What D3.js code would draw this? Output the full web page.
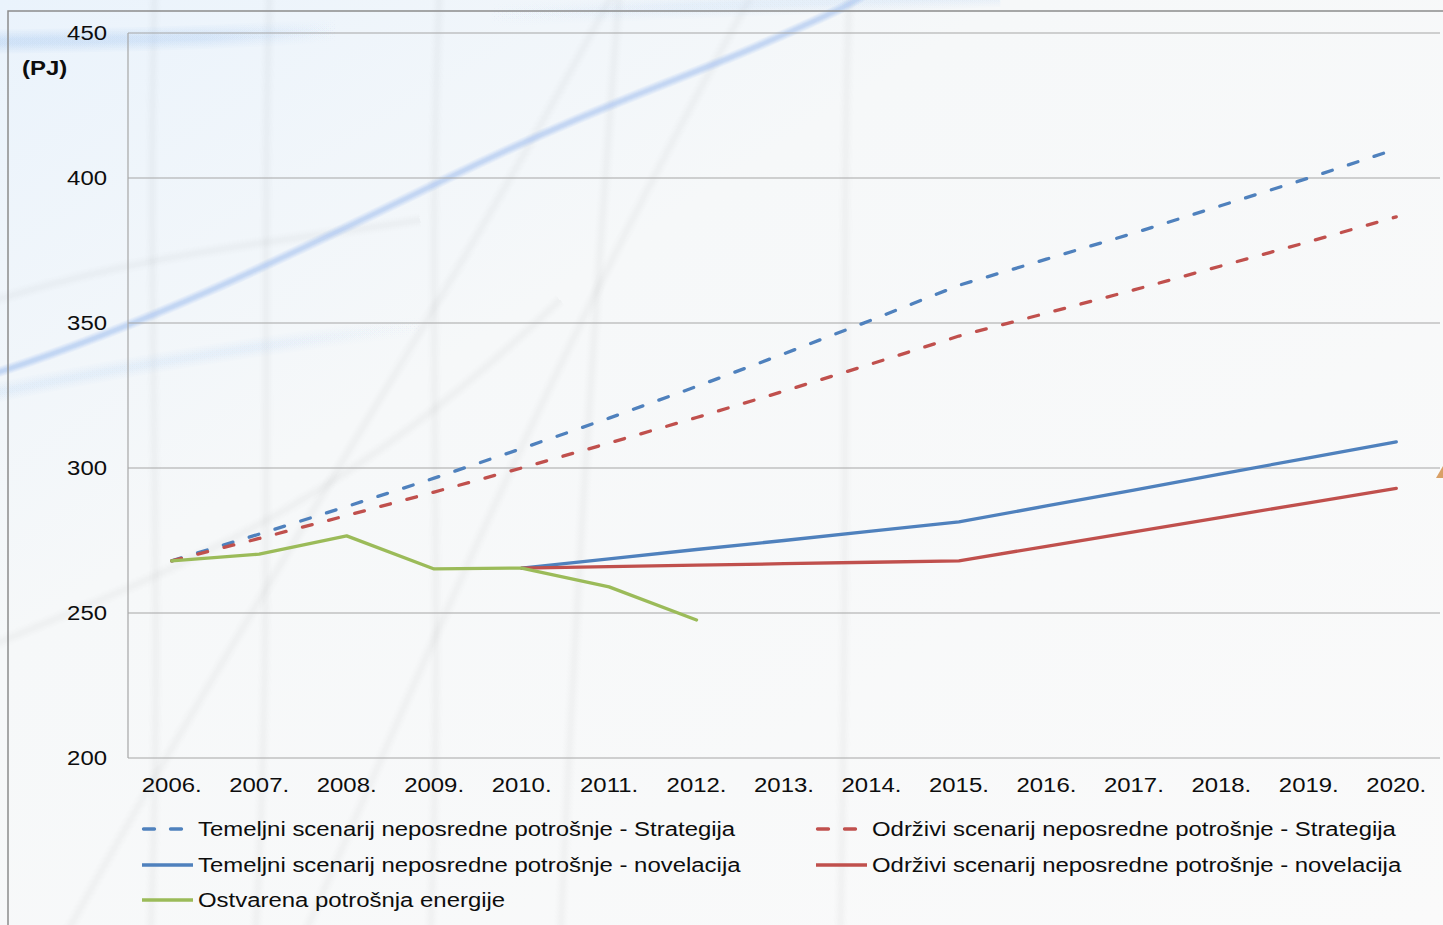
<!DOCTYPE html>
<html>
<head>
<meta charset="utf-8">
<script src="https://cdn.jsdelivr.net/npm/d3@7"></script>
<style>
  body { margin: 0; background: #fff; }
  svg { display: block; font-family: "Liberation Sans", Arial, sans-serif; }
</style>
</head>
<body>
<div id="chart"></div>
<script>
// data
const years = ['2006.', '2007.', '2008.', '2009.', '2010.', '2011.', '2012.', '2013.', '2014.', '2015.', '2016.', '2017.', '2018.', '2019.', '2020.'];
const temeljniStrategija = [268, 277.2, 286.7, 296.5, 306.7, 317.2, 328.1, 339.4, 351.0, 363, 372, 381, 390.5, 400, 410];
const odrziviStrategija = [268, 275.7, 283.6, 291.7, 300.0, 308.6, 317.4, 326.5, 335.9, 345.5, 353.4, 361.4, 369.7, 378.0, 386.6];
const temeljniNovelacija = [null, null, null, null, 265.5, 268.7, 271.9, 275.0, 278.2, 281.4, 286.9, 292.4, 298, 303.5, 309];
const odrziviNovelacija = [null, null, null, null, 265.5, 266, 266.5, 267, 267.5, 268, 273, 278, 283, 288, 293];
const ostvarena = [268, 270.3, 276.6, 265.2, 265.5, 259, 247.6, null, null, null, null, null, null, null, null];
const yTicks = [200, 250, 300, 350, 400, 450];

const series = [
  {name: 'Temeljni scenarij neposredne potrošnje - Strategija', values: temeljniStrategija, color: '#4f81bd', dash: true},
  {name: 'Održivi scenarij neposredne potrošnje - Strategija', values: odrziviStrategija, color: '#c0504d', dash: true},
  {name: 'Temeljni scenarij neposredne potrošnje - novelacija', values: temeljniNovelacija, color: '#4f81bd', dash: false},
  {name: 'Održivi scenarij neposredne potrošnje - novelacija', values: odrziviNovelacija, color: '#c0504d', dash: false},
  {name: 'Ostvarena potrošnja energije', values: ostvarena, color: '#9bbb59', dash: false}
];

const w = 1443;
const h = 925;
const plotLeft = 128, plotRight = 1440, plotTop = 33, plotBottom = 758;
const fontSize = 21;
const sx = 1.14; // text in the original is a bit wider than Arial

const svg = d3.select('#chart')
  .append('svg')
  .attr('width', w)
  .attr('height', h);

//Background
const defs = svg.append('defs');
const grad = defs.append('linearGradient')
  .attr('id', 'bg')
  .attr('x1', 0).attr('y1', 0).attr('x2', 1).attr('y2', 1);
grad.append('stop').attr('offset', '0%').attr('stop-color', '#eaf3fc');
grad.append('stop').attr('offset', '35%').attr('stop-color', '#f6f8f9');
grad.append('stop').attr('offset', '100%').attr('stop-color', '#fafafa');

function fade(id, x1, x2, color) {
  const g = defs.append('linearGradient')
    .attr('id', id)
    .attr('gradientUnits', 'userSpaceOnUse')
    .attr('x1', x1).attr('y1', 0).attr('x2', x2).attr('y2', 0);
  g.append('stop').attr('offset', '0%').attr('stop-color', color).attr('stop-opacity', 1);
  g.append('stop').attr('offset', '60%').attr('stop-color', color).attr('stop-opacity', 0.8);
  g.append('stop').attr('offset', '100%').attr('stop-color', color).attr('stop-opacity', 0);
}
fade('fadeTopLeft', 0, 340, '#a6c7ef');
fade('fadeTop', 1000, 480, '#bcd5f2');
fade('fadeMid', 0, 430, '#bcd5f2');

svg.append('rect')
  .attr('width', w).attr('height', h)
  .attr('fill', 'url(#bg)');

// soft streak: many wide, faint strokes stacked on top of each other
function streak(g, d, color, width, alpha) {
  [4, 3.4, 2.8, 2.3, 1.8, 1.4, 1.0].forEach(k => {
    g.append('path')
      .attr('d', d)
      .attr('fill', 'none')
      .attr('stroke', color)
      .attr('stroke-width', width * k)
      .attr('stroke-linecap', 'butt')
      .attr('opacity', alpha);
  });
}

const deco = svg.append('g');
const greyPaths = [
  'M155,-20 C145,300 165,600 150,945',
  'M270,-20 C260,250 275,600 255,945',
  'M440,-20 C425,300 445,600 430,945',
  'M-20,650 C200,560 350,500 560,300',
  'M60,945 C250,600 450,300 620,-20',
  'M300,945 C450,600 580,300 760,-20',
  'M-20,305 C150,250 300,240 420,220',
  'M560,945 C580,500 600,250 620,-20',
  'M850,-20 C840,200 850,500 840,945'
];
greyPaths.forEach(d => streak(deco, d, '#b4b4b4', 3.5, 0.018));
streak(deco, 'M-20,378 C150,325 300,250 448,178 S680,80 760,45 S850,5 880,-15', '#8fb6ec', 2.6, 0.08);
streak(deco, 'M-30,42 C120,40 220,38 340,30', 'url(#fadeTopLeft)', 6, 0.07);
streak(deco, 'M480,15 C650,8 800,3 1000,-5', 'url(#fadeTop)', 6, 0.05);
streak(deco, 'M-30,398 C150,360 300,340 430,325', 'url(#fadeMid)', 5, 0.045);

// outer frame
svg.append('path')
  .attr('d', `M8,${h} L8,11 L${w},11`)
  .attr('fill', 'none')
  .attr('stroke', '#8c8c8c')
  .attr('stroke-width', 1.5);

// small orange corner shape on the right edge
svg.append('path')
  .attr('d', 'M1436,478 L1443,466 L1443,478 Z')
  .attr('fill', '#d9a066');

//Scales
const xScale = d3.scaleBand()
  .domain(years)
  .range([plotLeft, plotRight]);

const yScale = d3.scaleLinear()
  .domain([200, 450])
  .range([plotBottom, plotTop]);

//Grid
svg.append('g')
  .selectAll('line')
  .data(yTicks)
  .enter()
  .append('line')
  .attr('x1', plotLeft)
  .attr('x2', plotRight)
  .attr('y1', d => yScale(d))
  .attr('y2', d => yScale(d))
  .attr('stroke', '#a6a6a6')
  .attr('stroke-width', 1.2);

svg.append('line')
  .attr('x1', plotLeft).attr('x2', plotLeft)
  .attr('y1', plotTop).attr('y2', plotBottom)
  .attr('stroke', '#a6a6a6')
  .attr('stroke-width', 1.2);

//Axes
const yAxis = d3.axisLeft(yScale).tickValues(yTicks).tickSize(0).tickPadding(21);
const gy = svg.append('g')
  .attr('transform', `translate(${plotLeft}, 0)`)
  .call(yAxis);
gy.select('.domain').remove();
gy.selectAll('text')
  .attr('font-size', fontSize)
  .attr('font-family', '"Liberation Sans", Arial, sans-serif')
  .attr('fill', '#0d0d0d')
  .attr('x', -21 / sx)
  .attr('transform', `scale(${sx},1)`);

const xAxis = d3.axisBottom(xScale).tickSize(0).tickPadding(19);
const gx = svg.append('g')
  .attr('transform', `translate(0, ${plotBottom})`)
  .call(xAxis);
gx.select('.domain').remove();
gx.selectAll('text')
  .attr('font-size', fontSize)
  .attr('font-family', '"Liberation Sans", Arial, sans-serif')
  .attr('fill', '#0d0d0d')
  .attr('transform', `scale(${sx},1)`);

svg.append('text')
  .attr('transform', `translate(22, 75) scale(${sx},1)`)
  .attr('font-size', fontSize)
  .attr('font-weight', 'bold')
  .attr('fill', '#0d0d0d')
  .text('(PJ)');

//Lines
const line = d3.line()
  .defined(d => d.v !== null)
  .x(d => xScale(d.year) + xScale.bandwidth() / 2)
  .y(d => yScale(d.v));

svg.append('g')
  .selectAll('path')
  .data(series)
  .enter()
  .append('path')
  .attr('d', s => line(s.values.map((v, i) => ({year: years[i], v: v}))))
  .attr('fill', 'none')
  .attr('stroke', s => s.color)
  .attr('stroke-width', 3.3)
  .attr('stroke-linecap', 'round')
  .attr('stroke-linejoin', 'round')
  .attr('stroke-dasharray', s => s.dash ? '10,17' : null);

//Legend
const legendPos = [
  {x: 142, y: 829}, {x: 816, y: 829},
  {x: 142, y: 865}, {x: 816, y: 865},
  {x: 142, y: 900}
];
const legend = svg.append('g')
  .selectAll('g')
  .data(series)
  .enter()
  .append('g')
  .attr('transform', (s, i) => `translate(${legendPos[i].x}, ${legendPos[i].y})`);

legend.append('line')
  .attr('x1', s => s.dash ? 1.5 : 0)
  .attr('x2', 51)
  .attr('y1', 0).attr('y2', 0)
  .attr('stroke', s => s.color)
  .attr('stroke-width', 3.3)
  .attr('stroke-linecap', s => s.dash ? 'round' : 'butt')
  .attr('stroke-dasharray', s => s.dash ? '11,16' : null);

legend.append('text')
  .attr('x', 56 / sx)
  .attr('y', 0)
  .attr('dy', '0.35em')
  .attr('transform', `scale(${sx},1)`)
  .attr('font-size', fontSize)
  .attr('fill', '#0d0d0d')
  .text(s => s.name);
</script>
</body>
</html>
